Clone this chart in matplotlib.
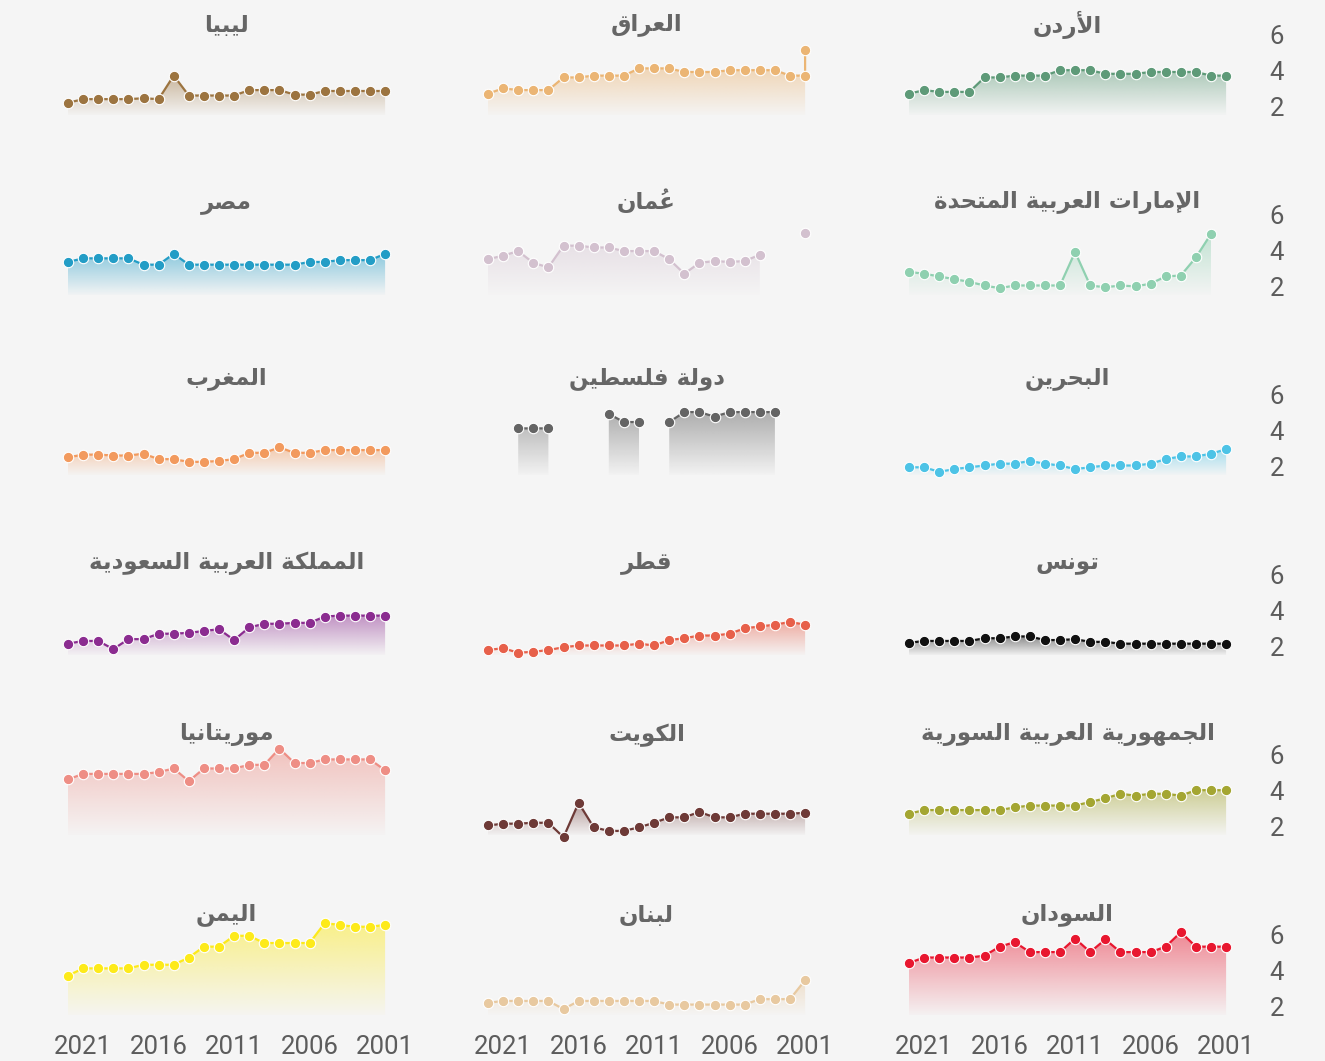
import numpy as np
import matplotlib
matplotlib.use('Agg')
import matplotlib.pyplot as plt
from matplotlib.path import Path
from matplotlib.colors import to_rgb

nan = np.nan

# years, read right to left in the chart (2022 at the left edge)
years = list(range(2022, 2000, -1))
x_ticks = [2021, 2016, 2011, 2006, 2001]
y_ticks = [2, 4, 6]

# values
jordan = [2.7, 2.9, 2.8, 2.8, 2.8, 3.6, 3.6, 3.7, 3.7, 3.7, 4.0, 4.0, 4.0, 3.8, 3.8, 3.8, 3.9, 3.9, 3.9, 3.9, 3.7, 3.7]
iraq = [2.7, 3.0, 2.9, 2.9, 2.9, 3.6, 3.6, 3.7, 3.7, 3.7, 4.1, 4.1, 4.1, 3.9, 3.9, 3.9, 4.0, 4.0, 4.0, 4.0, 3.7, 3.7]
iraq_2001_second = 5.1
libya = [2.2, 2.4, 2.4, 2.4, 2.4, 2.45, 2.4, 3.7, 2.6, 2.6, 2.6, 2.6, 2.9, 2.9, 2.9, 2.65, 2.65, 2.85, 2.85, 2.85, 2.85, 2.85]
uae = [2.8, 2.7, 2.55, 2.4, 2.25, 2.05, 1.9, 2.05, 2.05, 2.05, 2.05, 3.9, 2.05, 1.95, 2.05, 2.0, 2.15, 2.55, 2.6, 3.6, 4.9, nan]
oman = [3.5, 3.7, 3.95, 3.3, 3.05, 4.25, 4.25, 4.15, 4.15, 3.95, 3.95, 3.95, 3.5, 2.7, 3.3, 3.4, 3.35, 3.4, 3.75, nan, nan, 4.95]
egypt = [3.35, 3.55, 3.55, 3.55, 3.55, 3.2, 3.2, 3.8, 3.2, 3.2, 3.2, 3.2, 3.2, 3.2, 3.2, 3.2, 3.35, 3.35, 3.45, 3.45, 3.45, 3.8]
bahrain = [1.95, 1.95, 1.7, 1.85, 1.95, 2.05, 2.15, 2.15, 2.3, 2.15, 2.05, 1.85, 1.95, 2.05, 2.05, 2.05, 2.15, 2.4, 2.55, 2.55, 2.7, 2.95]
palestine = [nan, nan, 4.1, 4.1, 4.1, nan, nan, nan, 4.9, 4.45, 4.45, nan, 4.45, 5.0, 5.0, 4.75, 5.0, 5.0, 5.0, 5.0, nan, nan]
morocco = [2.5, 2.65, 2.65, 2.6, 2.6, 2.7, 2.4, 2.4, 2.25, 2.25, 2.3, 2.4, 2.75, 2.75, 3.05, 2.75, 2.75, 2.9, 2.9, 2.9, 2.9, 2.9]
tunisia = [2.2, 2.3, 2.3, 2.3, 2.3, 2.45, 2.45, 2.55, 2.55, 2.35, 2.35, 2.4, 2.25, 2.25, 2.15, 2.15, 2.15, 2.15, 2.15, 2.15, 2.15, 2.15]
qatar = [1.8, 1.9, 1.65, 1.7, 1.8, 1.95, 2.05, 2.05, 2.05, 2.05, 2.15, 2.05, 2.35, 2.45, 2.6, 2.6, 2.7, 3.0, 3.1, 3.2, 3.35, 3.2]
saudi = [2.15, 2.3, 2.3, 1.85, 2.4, 2.4, 2.7, 2.7, 2.75, 2.85, 2.95, 2.35, 3.05, 3.25, 3.25, 3.3, 3.3, 3.65, 3.7, 3.7, 3.7, 3.7]
syria = [2.7, 2.9, 2.9, 2.9, 2.9, 2.9, 2.9, 3.05, 3.15, 3.15, 3.15, 3.15, 3.35, 3.55, 3.8, 3.7, 3.8, 3.8, 3.7, 4.0, 4.0, 4.0]
kuwait = [2.05, 2.15, 2.15, 2.2, 2.2, 1.4, 3.3, 1.95, 1.75, 1.75, 1.95, 2.2, 2.5, 2.5, 2.8, 2.5, 2.5, 2.7, 2.7, 2.7, 2.7, 2.75]
mauritania = [4.6, 4.9, 4.9, 4.9, 4.9, 4.9, 5.0, 5.2, 4.5, 5.2, 5.2, 5.2, 5.4, 5.4, 6.3, 5.5, 5.5, 5.7, 5.7, 5.7, 5.7, 5.1]
sudan = [4.4, 4.7, 4.7, 4.7, 4.7, 4.8, 5.3, 5.55, 5.0, 5.0, 5.0, 5.75, 5.0, 5.7, 5.0, 5.0, 5.0, 5.3, 6.1, 5.3, 5.3, 5.3]
lebanon = [2.2, 2.3, 2.3, 2.3, 2.3, 1.85, 2.3, 2.3, 2.3, 2.3, 2.3, 2.3, 2.1, 2.1, 2.1, 2.1, 2.1, 2.1, 2.4, 2.4, 2.4, 3.45]
yemen = [3.7, 4.1, 4.1, 4.1, 4.1, 4.3, 4.3, 4.3, 4.7, 5.3, 5.3, 5.9, 5.9, 5.5, 5.5, 5.5, 5.5, 6.6, 6.5, 6.4, 6.4, 6.5]

# (row, col, title, values, colour) ; col 0 = left
panels = [
    (0, 0, 'ليبيا', libya, '#9c7440'),
    (0, 1, 'العراق', iraq, '#ebb574'),
    (0, 2, 'الأردن', jordan, '#5e9a78'),
    (1, 0, 'مصر', egypt, '#239dc6'),
    (1, 1, 'عُمان', oman, '#d3c1cf'),
    (1, 2, 'الإمارات العربية المتحدة', uae, '#8fd0b0'),
    (2, 0, 'المغرب', morocco, '#f29a5e'),
    (2, 1, 'دولة فلسطين', palestine, '#646464'),
    (2, 2, 'البحرين', bahrain, '#4dc3e6'),
    (3, 0, 'المملكة العربية السعودية', saudi, '#8b2c90'),
    (3, 1, 'قطر', qatar, '#e7604a'),
    (3, 2, 'تونس', tunisia, '#111111'),
    (4, 0, 'موريتانيا', mauritania, '#ee8e85'),
    (4, 1, 'الكويت', kuwait, '#6e3a37'),
    (4, 2, 'الجمهورية العربية السورية', syria, '#a4a632'),
    (5, 0, 'اليمن', yemen, '#fdea1a'),
    (5, 1, 'لبنان', lebanon, '#e8c9a0'),
    (5, 2, 'السودان', sudan, '#e8172f'),
]

# --- minimal arabic shaping (matplotlib draws glyphs left to right, no joining)
AR_FORMS = {
    '\u0627': ('\uFE8D', '\uFE8E', None, None),
    '\u0623': ('\uFE83', '\uFE84', None, None),
    '\u0625': ('\uFE87', '\uFE88', None, None),
    '\u0628': ('\uFE8F', '\uFE90', '\uFE91', '\uFE92'),
    '\u0629': ('\uFE93', '\uFE94', None, None),
    '\u062A': ('\uFE95', '\uFE96', '\uFE97', '\uFE98'),
    '\u062C': ('\uFE9D', '\uFE9E', '\uFE9F', '\uFEA0'),
    '\u062D': ('\uFEA1', '\uFEA2', '\uFEA3', '\uFEA4'),
    '\u062F': ('\uFEA9', '\uFEAA', None, None),
    '\u0631': ('\uFEAD', '\uFEAE', None, None),
    '\u0633': ('\uFEB1', '\uFEB2', '\uFEB3', '\uFEB4'),
    '\u0635': ('\uFEB9', '\uFEBA', '\uFEBB', '\uFEBC'),
    '\u0637': ('\uFEC1', '\uFEC2', '\uFEC3', '\uFEC4'),
    '\u0639': ('\uFEC9', '\uFECA', '\uFECB', '\uFECC'),
    '\u063A': ('\uFECD', '\uFECE', '\uFECF', '\uFED0'),
    '\u0641': ('\uFED1', '\uFED2', '\uFED3', '\uFED4'),
    '\u0642': ('\uFED5', '\uFED6', '\uFED7', '\uFED8'),
    '\u0643': ('\uFED9', '\uFEDA', '\uFEDB', '\uFEDC'),
    '\u0644': ('\uFEDD', '\uFEDE', '\uFEDF', '\uFEE0'),
    '\u0645': ('\uFEE1', '\uFEE2', '\uFEE3', '\uFEE4'),
    '\u0646': ('\uFEE5', '\uFEE6', '\uFEE7', '\uFEE8'),
    '\u0647': ('\uFEE9', '\uFEEA', '\uFEEB', '\uFEEC'),
    '\u0648': ('\uFEED', '\uFEEE', None, None),
    '\u064A': ('\uFEF1', '\uFEF2', '\uFEF3', '\uFEF4'),
}
LAM_ALEF = {'\u0627': ('\uFEFB', '\uFEFC'), '\u0623': ('\uFEF7', '\uFEF8'),
            '\u0625': ('\uFEF9', '\uFEFA')}
MARKS = '\u064B\u064C\u064D\u064E\u064F\u0650\u0651\u0652'


def shape_arabic(text):
    clusters = []
    for ch in text:
        if ch in MARKS and clusters:
            clusters[-1][1] += ch
        else:
            clusters.append([ch, ''])
    merged = []
    i = 0
    while i < len(clusters):
        b, m = clusters[i]
        if b == '\u0644' and i + 1 < len(clusters) and clusters[i + 1][0] in LAM_ALEF:
            merged.append(['LA' + clusters[i + 1][0], m + clusters[i + 1][1]])
            i += 2
        else:
            merged.append([b, m])
            i += 1

    def dual(b):
        return b in AR_FORMS and AR_FORMS[b][2] is not None

    def joins(b):
        return b is not None and (b in AR_FORMS or b.startswith('LA'))

    out = []
    for i, (b, m) in enumerate(merged):
        prev = merged[i - 1][0] if i > 0 else None
        nxt = merged[i + 1][0] if i + 1 < len(merged) else None
        cp = prev is not None and dual(prev) and joins(b)
        if b.startswith('LA'):
            iso, fin = LAM_ALEF[b[2]]
            g = fin if cp else iso
        elif b in AR_FORMS:
            f = AR_FORMS[b]
            cn = dual(b) and joins(nxt)
            if cp and cn:
                g = f[3]
            elif cp:
                g = f[1]
            elif cn:
                g = f[2]
            else:
                g = f[0]
        else:
            g = b
        # the mark glyph sits over the glyph drawn after it
        out.append(m + g)
    return ''.join(reversed(out))


# --- layout (pixels of the 1325x1061 picture)
W, H = 1325, 1061
col_first = [68, 488, 909]      # x of the 2022 point
step = 15.1
row_six = [34, 214, 394, 574, 754, 934]   # y of value 6
unit = 18.1
title_y = [25, 202, 378, 563, 735, 915]
y_lo, y_hi = 1.5, 6.5

bg = '#f5f5f5'
tick_col = '#5c5c5c'
fig = plt.figure(figsize=(W / 100, H / 100), dpi=100, facecolor=bg)

for row, col, title, vals, colour in panels:
    left = col_first[col] - step / 2
    width = 22 * step
    top = row_six[row] - (y_hi - 6) * unit
    height = (y_hi - y_lo) * unit
    ax = fig.add_axes([left / W, 1 - (top + height) / H, width / W, height / H])
    ax.set_facecolor(bg)
    for s in ax.spines.values():
        s.set_visible(False)

    y = np.ma.masked_invalid(np.array(vals, dtype=float))
    x = np.array(years, dtype=float)

    # gradient fill under the line
    fill = ax.fill_between(x, y_lo, y, facecolor='none', edgecolor='none')
    paths = [p for p in fill.get_paths() if len(p.vertices) > 3]
    if paths:
        ymax = float(np.nanmax(np.array(vals, dtype=float)))
        r, g, b = to_rgb(colour)
        n = 200
        grad = np.zeros((n, 1, 4))
        grad[:, 0, 0], grad[:, 0, 1], grad[:, 0, 2] = r, g, b
        grad[:, 0, 3] = np.linspace(0.5, 0.02, n)
        img = ax.imshow(grad, extent=[2000.5, 2022.5, y_lo, ymax], aspect='auto',
                        interpolation='bilinear', zorder=1)
        img.set_clip_path(Path.make_compound_path(*paths), ax.transData)

    xl = list(years)
    yl = list(vals)
    if title == 'العراق':
        xl = xl + [2001]
        yl = yl + [iraq_2001_second]
    ax.plot(xl, yl, color=colour, lw=1.6, marker='o', ms=7.5, mfc=colour,
            mec='white', mew=0.8, zorder=3, clip_on=False)

    ax.set_xlim(2022.5, 2000.5)
    ax.set_ylim(y_lo, y_hi)

    ax.set_xticks(x_ticks)
    ax.set_yticks(y_ticks)
    ax.tick_params(length=0, colors=tick_col, labelsize=18.5)
    if row == 5:
        ax.tick_params(axis='x', pad=14)
        for lab in ax.get_xticklabels():
            lab.set_fontfamily('Roboto')
    else:
        ax.set_xticklabels([])
    if col == 2:
        ax.yaxis.tick_right()
        ax.tick_params(axis='y', pad=26)
        for lab in ax.get_yticklabels():
            lab.set_fontfamily('Roboto')
    else:
        ax.set_yticklabels([])

    cx = (left + width / 2) / W
    fig.text(cx, 1 - title_y[row] / H, shape_arabic(title), ha='center', va='center',
             fontsize=16.5, fontweight='bold', color='#666666', family='DejaVu Sans')

fig.savefig('out.png', dpi=100, facecolor=bg)
